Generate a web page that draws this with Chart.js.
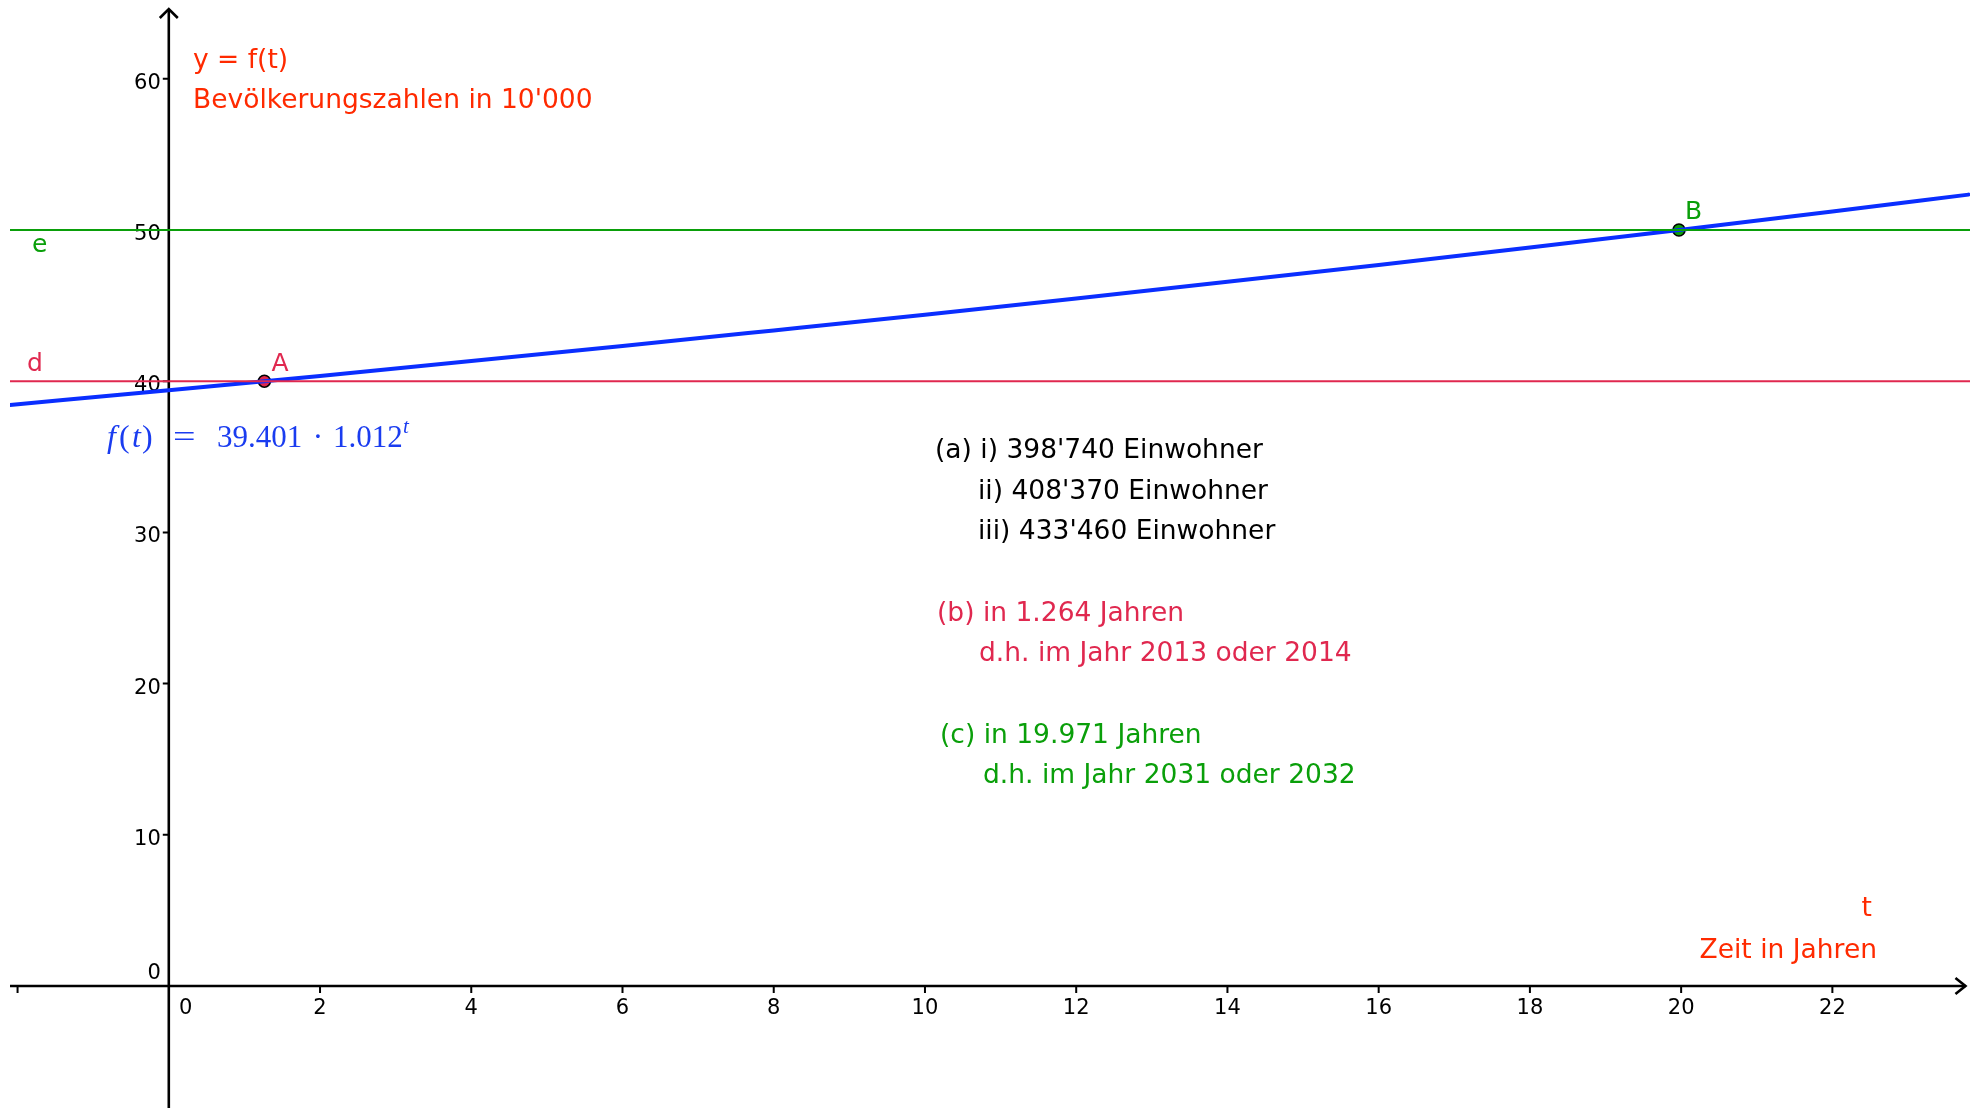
<!DOCTYPE html>
<html>
<head>
<meta charset="utf-8">
<script src="https://cdn.jsdelivr.net/npm/chart.js@4"></script>
<style>
  html, body { margin: 0; padding: 0; background: #fff; }
  canvas { display: block; }
</style>
</head>
<body>
<canvas id="chart" width="1976" height="1108"></canvas>
<script>
// values
const years = [-2.1, 0, 2, 4, 6, 8, 10, 12, 14, 16, 18, 20, 22, 23.8];
const population = [38.43, 39.4, 40.35, 41.33, 42.33, 43.36, 44.4, 45.47, 46.57, 47.69, 48.84, 50.02, 51.23, 52.34];
const levelD = 40;
const levelE = 50;
const pointA = [1.264, 40];
const pointB = [19.971, 50];
const xTicks = [-2, 0, 2, 4, 6, 8, 10, 12, 14, 16, 18, 20, 22];
const xTickLabels = ["", "0", "2", "4", "6", "8", "10", "12", "14", "16", "18", "20", "22"];
const yTicks = [0, 10, 20, 30, 40, 50, 60];
const yTickLabels = ["0", "10", "20", "30", "40", "50", "60"];

const xMin = -2.1, xMax = 23.82, yMin = -8.07, yMax = 64.55;
const xArrowEnd = 23.76;

const BLUE = "#0a2eff";
const CRIMSON = "#e0284f";
const GREEN = "#0a9f0a";
const RED = "#ff2a00";
const SANS = '"DejaVu Sans"';
const SERIF = '"Liberation Serif"';

const texts = [
  { t: "y = f(t)", x: 193, y: 68, c: RED },
  { t: "Bevölkerungszahlen in 10'000", x: 193, y: 108, c: RED },
  { t: "(a) i) 398'740 Einwohner", x: 935, y: 458, c: "#000" },
  { t: "ii) 408'370 Einwohner", x: 978, y: 499, c: "#000" },
  { t: "iii) 433'460 Einwohner", x: 978, y: 539, c: "#000" },
  { t: "(b) in 1.264 Jahren", x: 937, y: 621, c: CRIMSON },
  { t: "d.h. im Jahr 2013 oder 2014", x: 979, y: 661, c: CRIMSON },
  { t: "(c) in 19.971 Jahren", x: 940, y: 743, c: GREEN },
  { t: "d.h. im Jahr 2031 oder 2032", x: 983, y: 783, c: GREEN },
  { t: "t", x: 1872, y: 916, c: RED, align: "right" },
  { t: "Zeit in Jahren", x: 1877, y: 958, c: RED, align: "right" },
];

const axesPlugin = {
  id: "axes",
  beforeDatasetsDraw(chart) {
    const { ctx, chartArea, scales } = chart;
    const x = scales.x, y = scales.y;
    const x0 = x.getPixelForValue(0);
    const y0 = y.getPixelForValue(0);
    const xEnd = x.getPixelForValue(xArrowEnd);
    const yTop = y.getPixelForValue(yMax) - 1;
    ctx.save();
    ctx.strokeStyle = "#000";
    ctx.lineWidth = 2.6;
    ctx.beginPath();
    ctx.moveTo(chartArea.left, y0);
    ctx.lineTo(xEnd, y0);
    ctx.moveTo(x0, chart.height);
    ctx.lineTo(x0, yTop);
    ctx.stroke();
    // arrow heads
    ctx.beginPath();
    ctx.moveTo(xEnd - 10, y0 - 8);
    ctx.lineTo(xEnd, y0);
    ctx.lineTo(xEnd - 10, y0 + 8);
    ctx.moveTo(x0 - 9, yTop + 9);
    ctx.lineTo(x0, yTop);
    ctx.lineTo(x0 + 9, yTop + 9);
    ctx.stroke();
    // ticks
    ctx.lineWidth = 2;
    ctx.beginPath();
    xTicks.forEach((v) => {
      if (v === 0) return;
      const px = x.getPixelForValue(v);
      ctx.moveTo(px, y0);
      ctx.lineTo(px, y0 + 7);
    });
    yTicks.forEach((v) => {
      if (v === 0) return;
      const py = y.getPixelForValue(v);
      ctx.moveTo(x0, py);
      ctx.lineTo(x0 - 6, py);
    });
    ctx.stroke();
    // tick labels
    ctx.fillStyle = "#000";
    ctx.font = "21px " + SANS;
    ctx.textBaseline = "alphabetic";
    ctx.textAlign = "center";
    xTicks.forEach((v, i) => {
      const px = x.getPixelForValue(v) + (v === 0 ? 17 : 0);
      ctx.fillText(xTickLabels[i], px, y0 + 28);
    });
    ctx.textAlign = "right";
    yTicks.forEach((v, i) => {
      const py = y.getPixelForValue(v);
      ctx.fillText(yTickLabels[i], x0 - 8, v === 0 ? py - 7 : py + 10);
    });
    ctx.restore();
  },
  afterDraw(chart) {
    const { ctx, scales } = chart;
    const x = scales.x, y = scales.y;
    ctx.save();
    ctx.textBaseline = "alphabetic";
    ctx.font = "26.5px " + SANS;
    texts.forEach((d) => {
      ctx.fillStyle = d.c;
      ctx.textAlign = d.align || "left";
      ctx.fillText(d.t, d.x, d.y);
    });
    // object labels
    ctx.textAlign = "left";
    ctx.font = "25px " + SANS;
    ctx.fillStyle = CRIMSON;
    ctx.fillText("A", x.getPixelForValue(pointA[0]) + 7, y.getPixelForValue(pointA[1]) - 10);
    ctx.fillText("d", 27, y.getPixelForValue(levelD) - 10);
    ctx.fillStyle = GREEN;
    ctx.fillText("B", x.getPixelForValue(pointB[0]) + 6, y.getPixelForValue(pointB[1]) - 11);
    ctx.fillText("e", 32, y.getPixelForValue(levelE) + 22);
    // formula f(t) = 39.401 · 1.012^t
    ctx.fillStyle = "#1a3cf0";
    ctx.font = "italic 32px " + SERIF;
    ctx.fillText("f", 107, 447);
    ctx.fillText("t", 132, 447);
    ctx.font = "32px " + SERIF;
    ctx.fillText("(", 119, 447);
    ctx.fillText(")", 142, 447);
    ctx.save();
    ctx.translate(173, 447);
    ctx.scale(1.25, 1);
    ctx.fillText("=", 0, 0);
    ctx.restore();
    ctx.font = "31px " + SERIF;
    ctx.fillText("39.401", 217, 447);
    ctx.textAlign = "center";
    ctx.fillText("·", 318, 447);
    ctx.textAlign = "left";
    ctx.fillText("1.012", 333, 447);
    ctx.font = "italic 21px " + SERIF;
    ctx.fillText("t", 403, 433);
    ctx.restore();
  },
};

new Chart(document.getElementById("chart"), {
  type: "scatter",
  data: {
    datasets: [
      {
        data: [{ x: xMin, y: levelD }, { x: xMax, y: levelD }],
        showLine: true,
        borderColor: CRIMSON,
        borderWidth: 2,
        pointRadius: 0,
      },
      {
        data: [{ x: xMin, y: levelE }, { x: xMax, y: levelE }],
        showLine: true,
        borderColor: GREEN,
        borderWidth: 2,
        pointRadius: 0,
      },
      {
        data: years.map((t, i) => ({ x: t, y: population[i] })),
        showLine: true,
        borderColor: BLUE,
        borderWidth: 4,
        borderCapStyle: "round",
        cubicInterpolationMode: "monotone",
        pointRadius: 0,
      },
      {
        data: [{ x: pointA[0], y: pointA[1] }],
        pointRadius: 6,
        pointBackgroundColor: CRIMSON,
        pointBorderColor: "#000",
        pointBorderWidth: 1.6,
      },
      {
        data: [{ x: pointB[0], y: pointB[1] }],
        pointRadius: 6,
        pointBackgroundColor: GREEN,
        pointBorderColor: "#000",
        pointBorderWidth: 1.6,
      },
    ],
  },
  options: {
    responsive: false,
    animation: false,
    devicePixelRatio: 1,
    layout: { autoPadding: false, padding: { left: 10, right: 6, top: 10, bottom: 0 } },
    scales: {
      x: { type: "linear", min: xMin, max: xMax, display: false },
      y: { type: "linear", min: yMin, max: yMax, display: false },
    },
    plugins: {
      legend: { display: false },
      tooltip: { enabled: false },
    },
  },
  plugins: [axesPlugin],
});
</script>
</body>
</html>
